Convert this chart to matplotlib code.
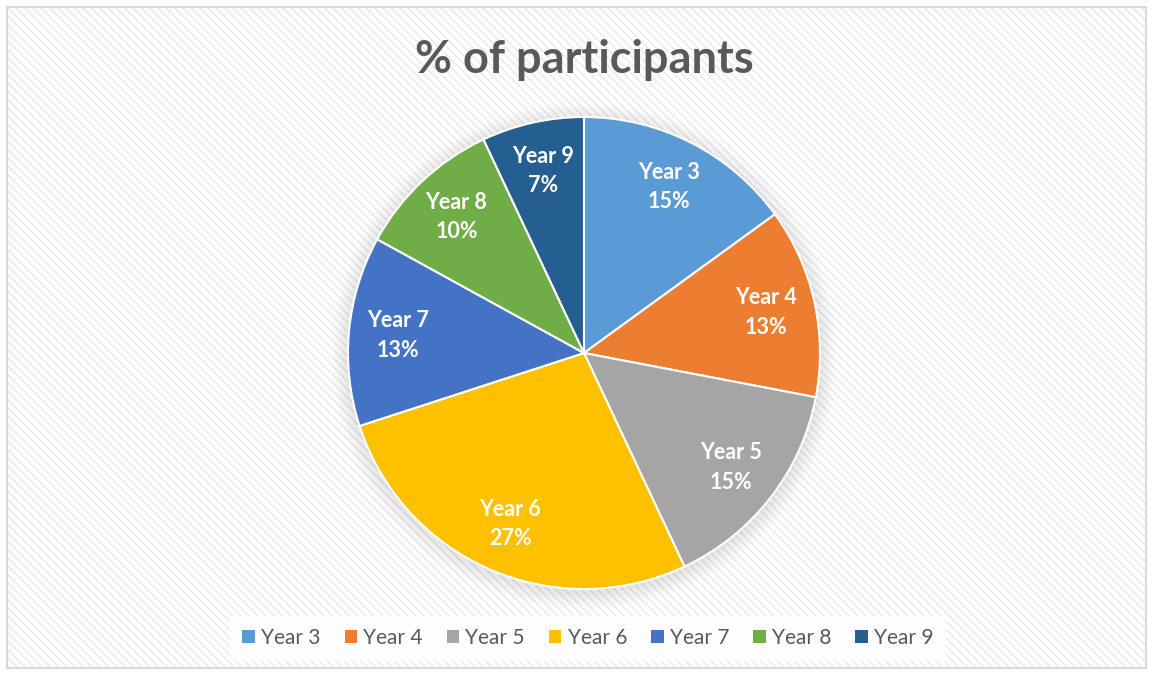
import matplotlib
matplotlib.use("Agg")
import matplotlib.pyplot as plt
from matplotlib.patches import Rectangle, Patch, Circle

categories = ["Year 3", "Year 4", "Year 5", "Year 6", "Year 7", "Year 8", "Year 9"]
values = [15, 13, 15, 27, 13, 10, 7]
colors = ["#5B9BD5", "#ED7D31", "#A5A5A5", "#FFC000", "#4472C4", "#70AD47", "#255E91"]
title = "% of participants"

plt.rcParams["font.family"] = ["Lato", "DejaVu Sans"]
plt.rcParams["hatch.linewidth"] = 1.2
plt.rcParams["hatch.color"] = "#ebebeb"

W, H = 1153, 675
fig = plt.figure(figsize=(W / 100, H / 100), dpi=100)
fig.patch.set_facecolor("white")

# background frame with diagonal hatch
bg = fig.add_axes([0, 0, 1, 1])
bg.set_xlim(0, W)
bg.set_ylim(H, 0)
bg.axis("off")
bg.add_patch(Rectangle((7, 7), W - 14, H - 14, facecolor="white", edgecolor="#ebebeb",
                       hatch="\\\\\\\\", linewidth=0))
bg.add_patch(Rectangle((7, 7), W - 14, H - 14, facecolor="none", edgecolor="#d9d9d9",
                       linewidth=1.5))

# pie axes: center (584,353), radius 236 px
cx, cy, r = 584, 353, 236
k = 1.25
ax = fig.add_axes([(cx - r * k) / W, (H - cy - r * k) / H, 2 * r * k / W, 2 * r * k / H])
ax.set_xlim(-k, k)
ax.set_ylim(-k, k)
ax.axis("off")

# soft shadow
for i in range(12):
    rr = 1.0 + 0.006 * (12 - i)
    ax.add_patch(Circle((0.0, -0.012), rr, facecolor="#000000", alpha=0.008, edgecolor="none"))
ax.add_patch(Circle((0, 0), 1.0, facecolor="white", edgecolor="none"))

def fmt_factory():
    idx = {"i": 0}
    def f(p):
        lab = f"{categories[idx['i']]}\n{values[idx['i']]:.0f}%"
        idx["i"] += 1
        return lab
    return f

wedges, texts, autotexts = ax.pie(values, colors=colors, startangle=90, counterclock=False,
                                  radius=1.0, autopct=fmt_factory(), pctdistance=0.79,
                                  wedgeprops=dict(edgecolor="white", linewidth=1.5),
                                  textprops=dict(color="white", fontsize=15.5, fontweight="bold"))
for t in autotexts:
    t.set_linespacing(1.5)
ax.set_xlim(-k, k)
ax.set_ylim(-k, k)
ax.set_aspect("auto")

fig.text(cx / W, 1 - 60 / H, title, ha="center", va="center", fontsize=32.5,
         fontweight="bold", color="#595959")

handles = [Patch(facecolor=c, edgecolor="none") for c in colors]
leg = fig.legend(handles, categories, loc="center", bbox_to_anchor=(588 / W, 1 - 638 / H),
                 ncol=7, frameon=True, fontsize=15, handlelength=0.6, handleheight=0.6,
                 handletextpad=0.3, columnspacing=1.15, fancybox=False, borderpad=0.6)
leg.get_frame().set_facecolor("white")
leg.get_frame().set_edgecolor("none")
for t in leg.get_texts():
    t.set_color("#595959")

fig.savefig("out.png", dpi=100, facecolor="white")
